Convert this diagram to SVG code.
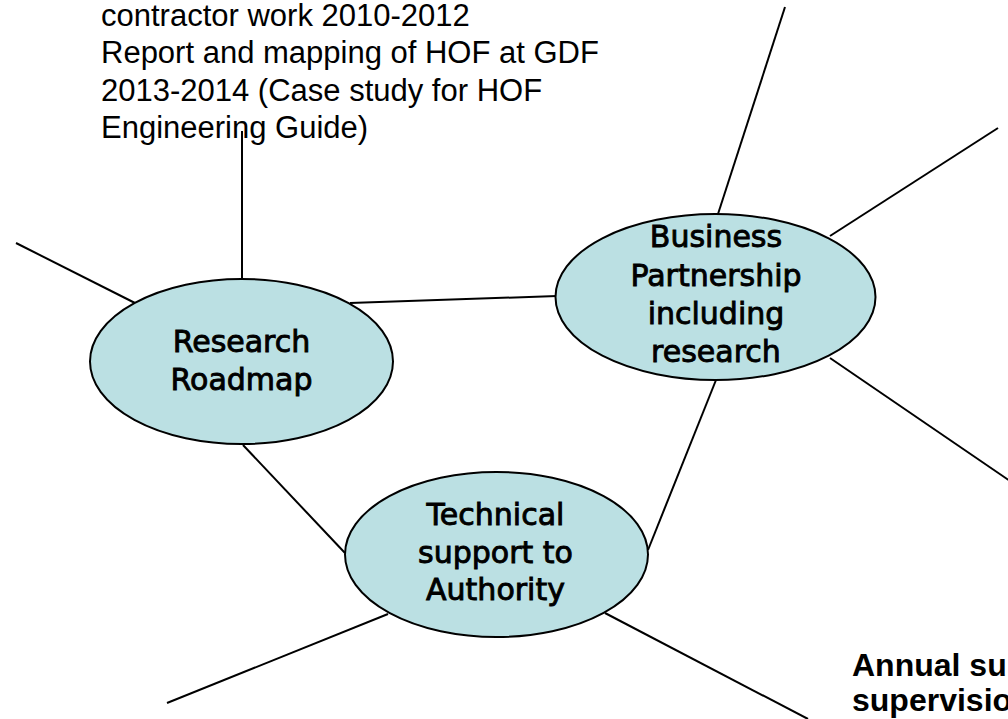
<svg xmlns="http://www.w3.org/2000/svg" width="1008" height="719" viewBox="0 0 1008 719">
<style>
.bg{fill:#ffffff}
.conn line{stroke:#000;stroke-width:2;fill:none}
.node ellipse{fill:#BBE0E3;stroke:#000;stroke-width:2}
.lbl{font-family:"DejaVu Sans","Noto Sans",sans-serif;font-size:30px;fill:#000;stroke:#000;stroke-width:0.9;text-anchor:middle}
.note{font-family:"Liberation Sans",Arial,sans-serif;font-size:31px;fill:#000}
.bold{font-family:"Liberation Sans",Arial,sans-serif;font-size:32px;font-weight:bold;fill:#000}
</style>
<rect class="bg" x="0" y="0" width="1008" height="719"/>
<g id="note-top">
<text class="note" x="101" y="26">contractor work 2010-2012</text>
<text class="note" x="101" y="63">Report and mapping of HOF at GDF</text>
<text class="note" x="101" y="101">2013-2014 (Case study for HOF</text>
<text class="note" x="101" y="138">Engineering Guide)</text>
</g>
<g id="connectors" class="conn">
<line x1="242" y1="131" x2="242" y2="280"/>
<line x1="16" y1="243" x2="135" y2="303"/>
<line x1="350" y1="303" x2="557" y2="296"/>
<line x1="243" y1="445" x2="345" y2="553"/>
<line x1="648" y1="550" x2="716" y2="380"/>
<line x1="718" y1="214" x2="785" y2="7"/>
<line x1="830" y1="236" x2="998" y2="128"/>
<line x1="830" y1="358" x2="1010" y2="481"/>
<line x1="388" y1="614" x2="167" y2="703"/>
<line x1="605" y1="613" x2="808" y2="719"/>
</g>
<g id="research-roadmap" class="node">
<ellipse cx="241.5" cy="361.5" rx="151.5" ry="82.5"/>
<text class="lbl" x="241.5" y="352">Research</text>
<text class="lbl" x="241.5" y="390">Roadmap</text>
</g>
<g id="business-partnership" class="node">
<ellipse cx="715.5" cy="297" rx="160" ry="83"/>
<text class="lbl" x="716" y="247">Business</text>
<text class="lbl" x="716" y="286">Partnership</text>
<text class="lbl" x="716" y="324">including</text>
<text class="lbl" x="716" y="362">research</text>
</g>
<g id="technical-support" class="node">
<ellipse cx="496.5" cy="554.5" rx="151.5" ry="82.5"/>
<text class="lbl" x="495.5" y="525">Technical</text>
<text class="lbl" x="495.5" y="563">support to</text>
<text class="lbl" x="495.5" y="600">Authority</text>
</g>
<g id="note-bottom">
<text class="bold" x="852" y="676">Annual sup</text>
<text class="bold" x="852" y="711">supervisio</text>
</g>
</svg>
